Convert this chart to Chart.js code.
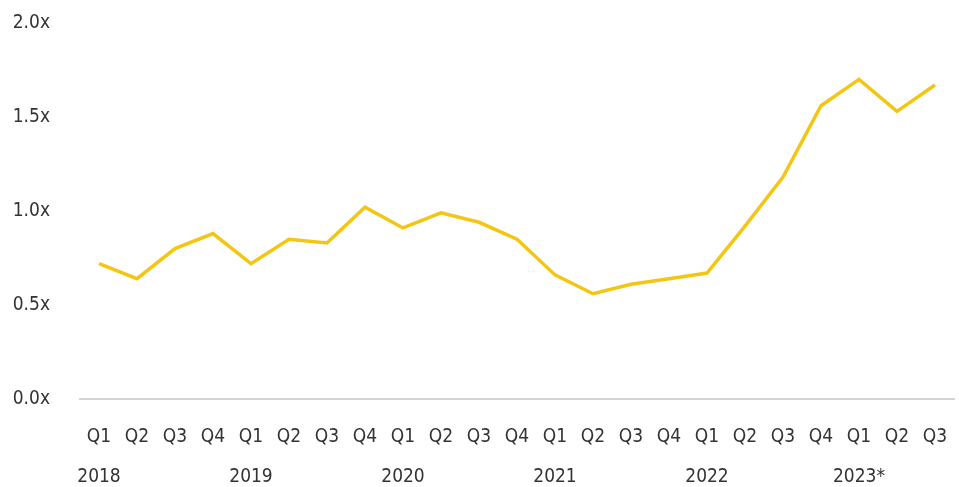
<!DOCTYPE html>
<html>
<head>
<meta charset="utf-8">
<script src="https://cdn.jsdelivr.net/npm/chart.js@4/dist/chart.umd.min.js"></script>
<style>
  html, body { margin: 0; padding: 0; background: #fff; }
  #wrap { width: 959px; height: 487px; }
</style>
</head>
<body>
<div id="wrap"><canvas id="multiple-chart"></canvas></div>
<script>
// quarters and years for the x axis
const quarters = ["Q1", "Q2", "Q3", "Q4", "Q1", "Q2", "Q3", "Q4", "Q1", "Q2", "Q3", "Q4",
  "Q1", "Q2", "Q3", "Q4", "Q1", "Q2", "Q3", "Q4", "Q1", "Q2", "Q3"];
const years = ["2018", "2019", "2020", "2021", "2022", "2023*"];
// multiple values
const multiples = [0.72, 0.64, 0.80, 0.88, 0.72, 0.85, 0.83, 1.02, 0.91, 0.99, 0.94, 0.85,
  0.66, 0.56, 0.61, 0.64, 0.67, 0.92, 1.18, 1.56, 1.70, 1.53, 1.67];
const yTicks = [0, 0.5, 1.0, 1.5, 2.0];

const FONT = "'Liberation Sans Narrow', 'DejaVu Sans Condensed', 'Liberation Sans', sans-serif";

// year goes under each Q1, one blank line lower
let yearIdx = 0;
const labels = quarters.map((q) => {
  if (q === "Q1") return [q, "", years[yearIdx++]];
  return q;
});

const ctx = document.getElementById("multiple-chart").getContext("2d");
new Chart(ctx, {
  type: "line",
  data: {
    labels: labels,
    datasets: [
      {
        data: multiples,
        borderColor: "#f4c614",
        borderWidth: 3.5,
        pointRadius: 0,
        tension: 0,
        fill: false,
      },
    ],
  },
  options: {
    responsive: true,
    maintainAspectRatio: false,
    animation: false,
    layout: { padding: { top: 23, right: 5, bottom: 0, left: 0 } },
    plugins: { legend: { display: false }, tooltip: { enabled: false } },
    scales: {
      x: {
        offset: true,
        afterFit: (scale) => {
          // fixed height, no extra side padding for the end labels
          scale.height = 88;
          scale.paddingLeft = 0;
          scale.paddingRight = 0;
        },
        grid: { display: false, drawTicks: false },
        border: { display: true, color: "#d6d2ce", width: 2 },
        ticks: {
          color: "#333",
          font: { family: FONT, size: 19, lineHeight: 1.05 },
          padding: 28,
          maxRotation: 0,
          autoSkip: false,
        },
      },
      y: {
        min: 0,
        max: 2,
        afterBuildTicks: (scale) => {
          scale.ticks = yTicks.map((v) => ({ value: v }));
        },
        afterFit: (scale) => {
          scale.width = 80;
          scale.paddingTop = 0;
          scale.paddingBottom = 0;
        },
        grid: { display: false, drawTicks: false },
        border: { display: false },
        ticks: {
          color: "#333",
          font: { family: FONT, size: 19 },
          padding: 30,
          callback: (v) => v.toFixed(1) + "x",
        },
      },
    },
  },
});
</script>
</body>
</html>
